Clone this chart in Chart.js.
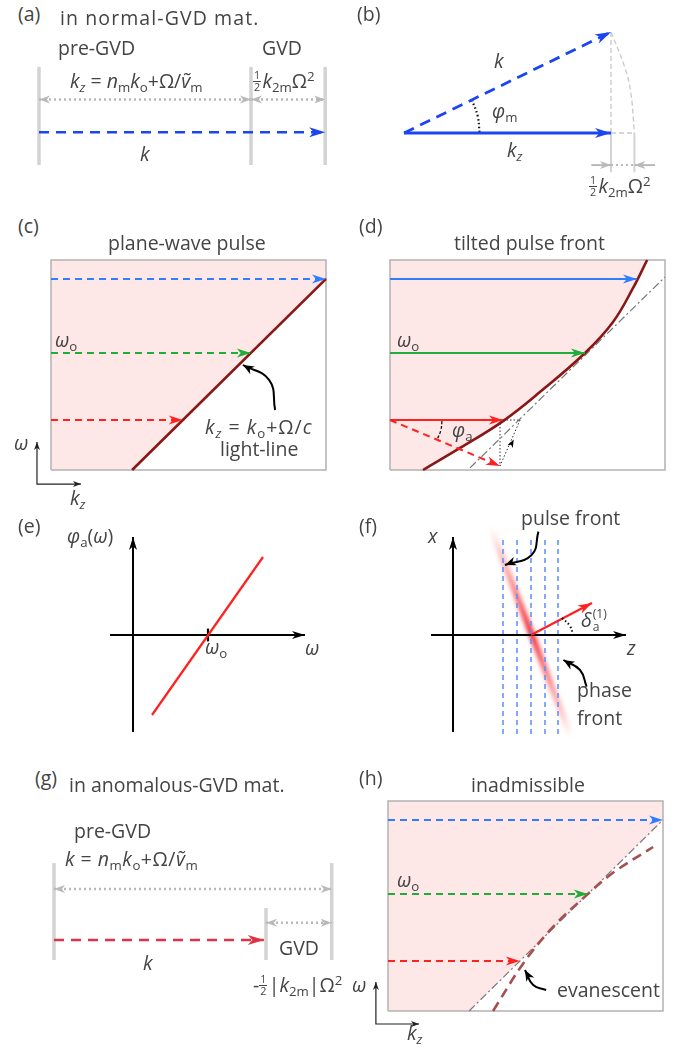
<!DOCTYPE html>
<html>
<head>
<meta charset="utf-8">
<script src="https://cdn.jsdelivr.net/npm/chart.js@4.4.1/dist/chart.umd.min.js"></script>
<style>
  body { margin: 0; background: #fff; }
  #page { position: relative; width: 688px; height: 1053px; overflow: hidden; font-family: "Open Sans", sans-serif; color: #444; }
  #page canvas { position: absolute; }
  .t { position: absolute; white-space: nowrap; line-height: 1; }
  .t sub { font-size: 0.68em; line-height: 0; vertical-align: -0.28em; }
  .t sup { font-size: 0.68em; line-height: 0; vertical-align: 0.55em; }
  .fr { display: inline-block; vertical-align: -0.3em; font-size: 0.55em; line-height: 1; text-align: center; margin: -3em 0.12em 0 0; }
  .fr b { display: block; font-weight: normal; padding: 0 1px; }
  .fr b:first-child { border-bottom: 1px solid currentColor; }
  .ss { display: inline-block; vertical-align: -0.35em; font-size: 0.62em; line-height: 1.05; margin: -3em 0 0 1px; }
  .ss b { display: block; font-weight: normal; }
</style>
</head>
<body>
<div id="page"></div>
<script>
// (a) normal-GVD material: pre-GVD and GVD parts of k
const aLengths = [10, 3.5];
// (b) k, kz and the GVD shortfall
const bKz = [10, 0];
const bK = [10, 4.88];
const bKmag = 11.13;
const bArc = [[10, 4.88], [10.66, 3.19], [10.96, 1.93], [11.13, 0]];
const bPhiArc = [[3.28, 1.6], [3.56, 0.82], [3.65, 0]];
// (c), (d), (h) spectral planes: red, green (omega_o), blue
const omegaLevels = [2.38, 5.57, 9.1];
const lightLine = [[2.95, 0], [10, 9.1]];
const cNote = [[8.15, 2.86], [7.93, 4.29], [6.98, 5.0]];
const dCurve = [[1.2, 0], [2.55, 1.05], [4.11, 2.33], [5.45, 3.71], [7.09, 5.57], [8.11, 7.05], [8.84, 8.67], [9.35, 10]];
const dTips = [4.11, 7.09, 8.98];
const dTangent = [[2.91, 0.1], [10, 9.19]];
const dTilted = [4.0, 0.19];
const dPhiArc = [[1.89, 2.33], [1.85, 1.9], [1.71, 1.43]];
// (e) spectral tilt angle
const eOmega0 = 3.75;
const ePhi = [[0.95, -4], [6.5, 3.9]];
// (f) pulse front vs phase fronts
const fPhaseZ = [2.5, 3.2, 3.9, 4.6, 5.25];
const fPulse = [[1.9, 5.35], [5.9, -5.1]];
const fDelta = [[3.9, 0], [6.95, 1.6]];
const fDeltaArc = [[5.45, 0.85], [5.85, 0.45], [6.0, 0]];
const fPulseNote = [[4.27, 5.17], [3.93, 4.0], [2.6, 3.5]];
const fPhaseNote = [[6.68, -2.58], [6.35, -1.75], [5.52, -1.25]];
// (g) anomalous-GVD material: pre-GVD and (negative) GVD parts
const gLengths = [13.1, 3.1];
// (h) evanescent branch
const hCurve = [[3.82, 0], [4.93, 2.29], [6.0, 4.0], [7.31, 5.62], [8.22, 6.62], [9.64, 7.81]];
const hNote = [[5.75, 1.0], [5.28, 1.24], [4.98, 1.95]];

const BLUE_DARK = '#1c45f2', BLUE = '#2f7eff', GREEN = '#1fae3a', RED = '#ff2020';
const DARKRED = '#8a1616', BROWN = '#a64f4f', CRIMSON = '#dc3446', PINK = '#fde7e7';
const GRAY_BAR = '#d3d3d3', GRAY_DOT = '#b9b9b9', GRAY_LT = '#c9c9c9', BOX = '#b3b3b3';
const NONE = 'rgba(0,0,0,0)';

const page = document.getElementById('page');
const xy = pts => pts.map(([x, y]) => ({ x, y }));

function seg(pts, color, width, extra) {
  return Object.assign({
    data: xy(pts), showLine: true, borderColor: color, backgroundColor: color,
    borderWidth: width, fill: false, pointRadius: 0, tension: 0
  }, extra);
}

function drawHead(ctx, x, y, ang, len, wid, color) {
  ctx.save();
  ctx.translate(x, y);
  ctx.rotate(ang);
  ctx.beginPath();
  ctx.moveTo(0, 0);
  ctx.lineTo(-len, -wid / 2);
  ctx.lineTo(-len * 0.72, 0);
  ctx.lineTo(-len, wid / 2);
  ctx.closePath();
  ctx.fillStyle = color;
  ctx.fill();
  ctx.restore();
}

// arrowheads at line ends, following the curve's last control point
const arrowPlugin = {
  id: 'arrows',
  afterDatasetsDraw(chart) {
    const ctx = chart.ctx;
    chart.data.datasets.forEach((ds, i) => {
      if (!ds.head) return;
      const pts = chart.getDatasetMeta(i).data;
      const n = pts.length;
      const color = ds.headColor || ds.borderColor;
      const [len, wid] = ds.head.size || [13, 8];
      const dir = (p, q, cpx, cpy) => {
        let qx = q.x, qy = q.y;
        if (cpx !== undefined && Math.abs(cpx - p.x) + Math.abs(cpy - p.y) > 0.5) { qx = cpx; qy = cpy; }
        return Math.atan2(p.y - qy, p.x - qx);
      };
      if (ds.head.end) {
        const p = pts[n - 1];
        drawHead(ctx, p.x, p.y, dir(p, pts[n - 2], p.cp1x, p.cp1y), len, wid, color);
      }
      if (ds.head.start) {
        const p = pts[0];
        drawHead(ctx, p.x, p.y, dir(p, pts[1], p.cp2x, p.cp2y), len, wid, color);
      }
    });
  }
};

const blurPlugin = {
  id: 'blur',
  beforeDatasetDraw(chart, args) {
    const ds = chart.data.datasets[args.index];
    if (ds.blur) { chart.ctx.save(); chart.ctx.filter = 'blur(' + ds.blur + 'px)'; }
  },
  afterDatasetDraw(chart, args) {
    if (chart.data.datasets[args.index].blur) chart.ctx.restore();
  }
};

// one chart per panel: box = canvas rect on the page, origin = page pixel of (0,0), scale = px per unit
function panel(box, origin, scale, datasets) {
  const [left, top, w, h] = box;
  const [ox, oy] = origin;
  const [sx, sy] = scale;
  const cv = document.createElement('canvas');
  cv.width = w; cv.height = h;
  cv.style.left = left + 'px'; cv.style.top = top + 'px';
  page.appendChild(cv);
  datasets.forEach((ds, i) => { if (ds.order === undefined) ds.order = datasets.length - i; });
  return new Chart(cv, {
    type: 'scatter',
    data: { datasets },
    options: {
      responsive: false, animation: false, devicePixelRatio: 1, events: [],
      layout: { padding: 0 },
      plugins: { legend: { display: false }, tooltip: { enabled: false } },
      elements: { point: { radius: 0, hoverRadius: 0 }, line: { borderCapStyle: 'butt' } },
      scales: {
        x: { type: 'linear', display: false, min: (left - ox) / sx, max: (left + w - ox) / sx },
        y: { type: 'linear', display: false, min: (oy - top - h) / sy, max: (oy - top) / sy }
      }
    },
    plugins: [blurPlugin, arrowPlugin]
  });
}

const BOXRECT = [[0, 0], [10, 0], [10, 10], [0, 10], [0, 0]];
const levelColors = [RED, GREEN, BLUE];
const onLine = (ln, w) => ln[0][0] + (w - ln[0][1]) * (ln[1][0] - ln[0][0]) / (ln[1][1] - ln[0][1]);
const dotted = { borderDash: [2, 3] };
const grayHeads = { start: true, end: true, size: [11, 8] };

// (a)
{
  const [pre, gvd] = aLengths, tot = pre + gvd;
  panel([20, 55, 320, 120], [39, 165], [21.2, 32.7], [
    ...[0, pre, tot].map(x => seg([[x, 0], [x, 3]], GRAY_BAR, 3.5)),
    seg([[0, 2], [pre, 2]], GRAY_DOT, 2.5, Object.assign({ head: grayHeads }, dotted)),
    seg([[pre, 2], [tot, 2]], GRAY_DOT, 2.5, Object.assign({ head: grayHeads }, dotted)),
    seg([[0, 1], [tot, 1]], BLUE_DARK, 2.6, { borderDash: [10, 7], head: { end: true, size: [16, 10] } })
  ]);
}

// (b)
{
  const dash = { borderDash: [5, 3] };
  const yb = -1.55;
  panel([380, 20, 300, 165], [404, 133], [20.7, 20.7], [
    seg(bArc, GRAY_LT, 1.3, Object.assign({ tension: 0.4 }, dash)),
    seg([[bK[0], bK[1]], [bK[0], 0]], GRAY_LT, 1.3, dash),
    seg([[bKz[0], 0], [bKmag, 0]], GRAY_LT, 1.3, dash),
    seg([[bKz[0], 0], [bKz[0], -1.9]], GRAY_BAR, 2),
    seg([[bKmag, 0], [bKmag, -1.9]], GRAY_BAR, 2),
    seg([[bKz[0] - 0.95, yb], [bKz[0], yb]], GRAY_DOT, 2, { head: { end: true, size: [11, 8] } }),
    seg([[bKmag + 1, yb], [bKmag, yb]], GRAY_DOT, 2, { head: { end: true, size: [11, 8] } }),
    seg([[bKz[0], yb], [bKmag, yb]], GRAY_DOT, 2, dotted),
    seg(bPhiArc, '#111', 2.2, { borderDash: [1.5, 2.5], tension: 0.4 }),
    seg([[0, 0], bK], BLUE_DARK, 2.8, { borderDash: [11, 7], head: { end: true, size: [16, 10] } }),
    seg([[0, 0], bKz], BLUE_DARK, 2.8, { head: { end: true, size: [16, 10] } })
  ]);
}

// (c)
panel([5, 250, 335, 240], [51, 470], [27.5, 21], [
  seg([[0, 0], ...lightLine], NONE, 0, { fill: { value: 10 }, backgroundColor: PINK }),
  seg(BOXRECT, BOX, 1.5),
  seg(lightLine, DARKRED, 2.6),
  ...omegaLevels.map((w, i) => seg([[0, w], [onLine(lightLine, w), w]], levelColors[i], 2,
    { borderDash: [7, 5], head: { end: true, size: [14, 9] } })),
  seg(cNote, '#000', 2, { tension: 0.45, head: { end: true, size: [11, 9] } }),
  seg([[-0.51, 1.33], [-0.51, -0.67], [1.09, -0.67]], '#222', 1.2, { head: { start: true, end: true, size: [8, 6] } })
]);

// (d)
panel([380, 250, 295, 230], [390, 470], [27.5, 21], [
  seg([[0, 0], dCurve[0]], NONE, 0, { fill: { value: 10 }, backgroundColor: PINK }),
  seg(dCurve, NONE, 0, { fill: { value: 10 }, backgroundColor: PINK, tension: 0.4 }),
  seg(BOXRECT, BOX, 1.5),
  seg(dTangent, '#777', 1.2, { borderDash: [8, 3, 2, 3] }),
  seg(dCurve, DARKRED, 2.6, { tension: 0.4 }),
  ...omegaLevels.map((w, i) => seg([[0, w], [dTips[i], w]], levelColors[i], 2, { head: { end: true, size: [14, 9] } })),
  seg([[0, omegaLevels[0]], dTilted], RED, 2, { borderDash: [7, 5], head: { end: true, size: [14, 9] } }),
  seg(dPhiArc, '#111', 1.3, { borderDash: [3, 2], tension: 0.4 }),
  seg([[dTilted[0], omegaLevels[0]], dTilted], '#333', 1, { borderDash: [1.5, 2] }),
  seg([[dTips[0], omegaLevels[0]], [4.73, omegaLevels[0]]], '#333', 1, { borderDash: [1.5, 2] }),
  seg([[4.73, omegaLevels[0]], dTilted], '#333', 1, { borderDash: [1.5, 2] }),
  seg([dTilted, [4.5, 1.45]], NONE, 0, { headColor: '#000', head: { end: true, size: [8, 6] } })
]);

// (e)
panel([95, 530, 240, 210], [133, 635], [20, 20], [
  seg([[-1.15, 0], [8.6, 0]], '#000', 2, { head: { end: true, size: [13, 8] } }),
  seg([[0, -4.85], [0, 4.9]], '#000', 2, { head: { end: true, size: [13, 8] } }),
  seg([[eOmega0, -0.32], [eOmega0, 0.32]], '#000', 2.2),
  seg(ePhi, RED, 2.2)
]);

// (f)
const pulseColor = c => {
  const { x, y } = c.chart.scales;
  const fb = 'rgba(240,40,40,0.7)';
  if (!x || !y) return fb;
  const p = [x.getPixelForValue(fPulse[0][0]), y.getPixelForValue(fPulse[0][1]),
             x.getPixelForValue(fPulse[1][0]), y.getPixelForValue(fPulse[1][1])];
  if (!p.every(Number.isFinite)) return fb;
  const g = c.chart.ctx.createLinearGradient(p[0], p[1], p[2], p[3]);
  g.addColorStop(0, 'rgba(255,110,110,0)');
  g.addColorStop(0.12, 'rgba(252,90,90,0.35)');
  g.addColorStop(0.32, 'rgba(245,60,65,0.7)');
  g.addColorStop(0.5, 'rgba(235,25,40,0.95)');
  g.addColorStop(0.68, 'rgba(245,60,65,0.7)');
  g.addColorStop(0.88, 'rgba(252,90,90,0.35)');
  g.addColorStop(1, 'rgba(255,110,110,0)');
  return g;
};
panel([420, 505, 230, 240], [453, 635], [20, 20], [
  seg(fPulse, pulseColor, 6, { blur: 2.2 }),
  ...fPhaseZ.map(z => seg([[z, 4.75], [z, -5]], '#5b8cff', 1.5, { borderDash: [5, 4] })),
  seg([[-1.1, 0], [8.65, 0]], '#000', 2, { head: { end: true, size: [13, 8] } }),
  seg([[0, -4.85], [0, 4.9]], '#000', 2, { head: { end: true, size: [13, 8] } }),
  seg(fDelta, RED, 2.2, { head: { end: true, size: [14, 9] } }),
  seg(fDeltaArc, '#111', 2, { borderDash: [1.5, 2.5], tension: 0.4 }),
  seg(fPulseNote, '#000', 2, { tension: 0.45, head: { end: true, size: [11, 9] } }),
  seg(fPhaseNote, '#000', 2, { tension: 0.45, head: { end: true, size: [11, 9] } })
]);

// (g)
{
  const [pre, gvd] = gLengths, k = pre - gvd;
  panel([35, 850, 310, 125], [54, 960], [21.2, 32.3], [
    seg([[0, 0], [0, 3]], GRAY_BAR, 3.5),
    seg([[pre, 0], [pre, 3]], GRAY_BAR, 3.5),
    seg([[k, 0], [k, 1.61]], GRAY_BAR, 3.5),
    seg([[0, 2.2], [pre, 2.2]], GRAY_DOT, 2.5, Object.assign({ head: grayHeads }, dotted)),
    seg([[k, 1.15], [pre, 1.15]], GRAY_DOT, 2.5, Object.assign({ head: grayHeads }, dotted)),
    seg([[0, 0.62], [k - 0.1, 0.62]], CRIMSON, 2.6, { borderDash: [10, 7], head: { end: true, size: [16, 10] } })
  ]);
}

// (h)
panel([365, 790, 310, 245], [388, 1011], [27.5, 21], [
  seg([[0, 0], ...lightLine], NONE, 0, { fill: { value: 10 }, backgroundColor: PINK }),
  seg(BOXRECT, BOX, 1.5),
  seg(lightLine, '#777', 1.2, { borderDash: [8, 3, 2, 3] }),
  seg(hCurve, BROWN, 2.6, { borderDash: [10, 6], tension: 0.35 }),
  ...omegaLevels.map((w, i) => seg([[0, w], [onLine(lightLine, w), w]], levelColors[i], 2,
    { borderDash: [7, 5], head: { end: true, size: [14, 9] } })),
  seg(hNote, '#000', 2, { tension: 0.45, head: { end: true, size: [11, 9] } }),
  seg([[-0.44, 1.38], [-0.44, -0.62], [1.13, -0.62]], '#222', 1.2, { head: { start: true, end: true, size: [8, 6] } })
]);

// text: [left, baseline, html, letter-spacing]
const HALF = '<span class="fr"><b>1</b><b>2</b></span>';
const labels = [
  [18, 21, '(a)'], [60, 25, 'in normal-GVD mat.', 1.1], [58, 55, 'pre-GVD'], [262, 55, 'GVD'],
  [70, 88, '<i>k</i><sub><i>z</i></sub> = <i>n</i><sub>m</sub><i>k</i><sub>o</sub>+Ω/<i>ṽ</i><sub>m</sub>'],
  [253, 88, HALF + '<i>k</i><sub>2m</sub>Ω<sup>2</sup>'],
  [140, 161, '<i>k</i>'],
  [357, 21, '(b)'], [494, 68, '<i>k</i>'], [492, 118, '<i>φ</i><sub>m</sub>'],
  [507, 157, '<i>k</i><sub><i>z</i></sub>'], [589, 193, HALF + '<i>k</i><sub>2m</sub>Ω<sup>2</sup>'],
  [18, 233, '(c)'], [108, 250, 'plane-wave pulse'], [55, 347, '<i>ω</i><sub>o</sub>'],
  [205, 434, '<i>k</i><sub><i>z</i></sub> = <i>k</i><sub>o</sub>+Ω/<i>c</i>', 1], [220, 456, 'light-line'],
  [14, 450, '<i>ω</i>'], [70, 505, '<i>k</i><sub><i>z</i></sub>'],
  [359, 233, '(d)'], [454, 250, 'tilted pulse front'], [397, 347, '<i>ω</i><sub>o</sub>'],
  [452, 437, '<i>φ</i><sub>a</sub>'],
  [18, 533, '(e)'], [67, 543, '<i>φ</i><sub>a</sub>(<i>ω</i>)'], [205, 654, '<i>ω</i><sub>o</sub>'],
  [305, 655, '<i>ω</i>'],
  [359, 533, '(f)'], [428, 543, '<i>x</i>'], [521, 525, 'pulse front'],
  [581, 627, '<i>δ</i><span class="ss"><b>(1)</b><b>a</b></span>'], [627, 655, '<i>z</i>'],
  [577, 697, 'phase'], [577, 725, 'front'],
  [35, 785, '(g)'], [69, 792, 'in anomalous-GVD mat.'], [74, 838, 'pre-GVD'],
  [65, 866, '<i>k</i> = <i>n</i><sub>m</sub><i>k</i><sub>o</sub>+Ω/<i>ṽ</i><sub>m</sub>', 0.5],
  [279, 955, 'GVD'], [143, 970, '<i>k</i>'],
  [253, 992, '-' + HALF + '|<i>k</i><sub>2m</sub>|Ω<sup>2</sup>'],
  [359, 785, '(h)'], [471, 792, 'inadmissible'], [397, 887, '<i>ω</i><sub>o</sub>'],
  [557, 997, 'evanescent'], [352, 992, '<i>ω</i>'], [407, 1040, '<i>k</i><sub><i>z</i></sub>']
];
const FS = 19.5;
labels.forEach(([x, base, html, ls]) => {
  const el = document.createElement('div');
  el.className = 't';
  el.style.fontSize = FS + 'px';
  el.style.left = x + 'px';
  el.style.top = (base - 0.888 * FS) + 'px';
  if (ls) el.style.letterSpacing = ls + 'px';
  el.innerHTML = html;
  page.appendChild(el);
});
</script>
</body>
</html>
